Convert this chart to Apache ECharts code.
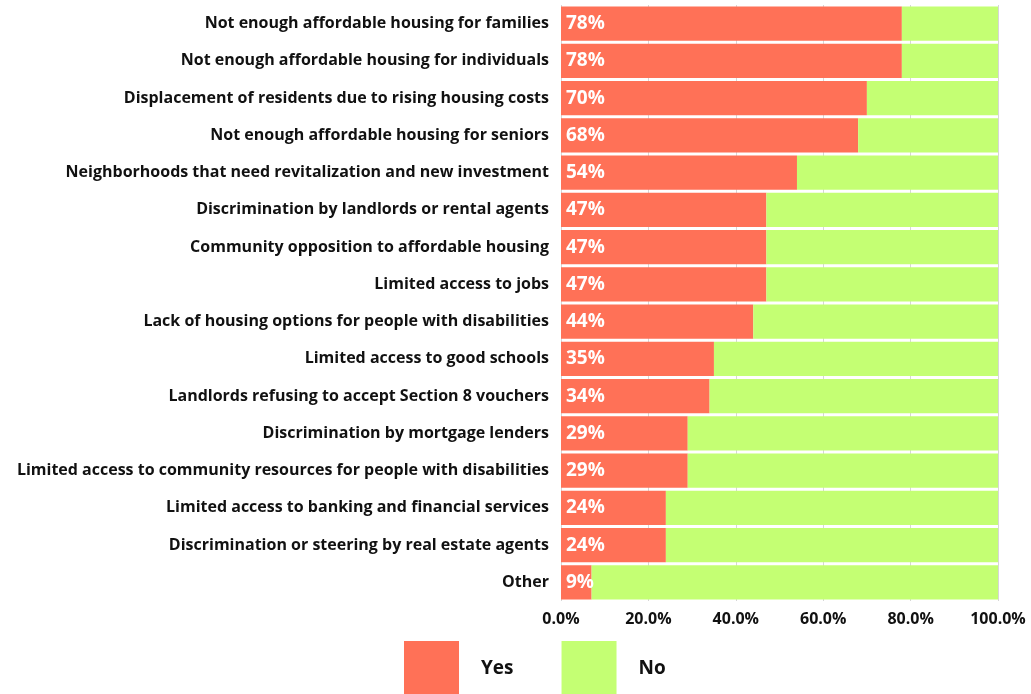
<!DOCTYPE html>
<html>
<head>
<meta charset="utf-8">
<script src="https://cdn.jsdelivr.net/npm/echarts@6/dist/echarts.min.js"></script>
<style>
  html, body { margin: 0; padding: 0; background: #fff; }
  #chart { width: 1031px; height: 694px; }
</style>
</head>
<body>
<div id="chart"></div>
<script>
// categories top to bottom
var categories = [
    'Not enough affordable housing for families',
    'Not enough affordable housing for individuals',
    'Displacement of residents due to rising housing costs',
    'Not enough affordable housing for seniors',
    'Neighborhoods that need revitalization and new investment',
    'Discrimination by landlords or rental agents',
    'Community opposition to affordable housing',
    'Limited access to jobs',
    'Lack of housing options for people with disabilities',
    'Limited access to good schools',
    'Landlords refusing to accept Section 8 vouchers',
    'Discrimination by mortgage lenders',
    'Limited access to community resources for people with disabilities',
    'Limited access to banking and financial services',
    'Discrimination or steering by real estate agents',
    'Other'
];
// bar lengths as drawn (percent)
var yesValues = [78, 78, 70, 68, 54, 47, 47, 47, 44, 35, 34, 29, 29, 24, 24, 7];
var noValues = [22, 22, 30, 32, 46, 53, 53, 53, 56, 65, 66, 71, 71, 76, 76, 93];
// labels printed on the bars
var yesLabels = ['78%', '78%', '70%', '68%', '54%', '47%', '47%', '47%', '44%', '35%', '34%', '29%', '29%', '24%', '24%', '9%'];
var tickValues = [0, 20, 40, 60, 80, 100];

var font = '"Open Sans", sans-serif';
var myChart = echarts.init(document.getElementById('chart'));
var option = {
    animation: false,
    textStyle: { fontFamily: font },
    grid: { left: 561, right: 33, top: 5, bottom: 93 },
    legend: {
        data: ['Yes', 'No'],
        top: 641,
        left: 404,
        padding: 0,
        icon: 'rect',
        itemWidth: 55,
        itemHeight: 55,
        itemGap: 48,
        textStyle: { fontSize: 19, fontWeight: 700, color: '#111', padding: [0, 0, 0, 17], fontFamily: font }
    },
    xAxis: {
        type: 'value',
        min: 0,
        max: 100,
        interval: 20,
        axisLine: { show: false },
        axisTick: { show: false },
        splitLine: { show: true, lineStyle: { color: '#d6d6d6', width: 1 } },
        axisLabel: {
            color: '#111',
            fontSize: 16,
            fontWeight: 700,
            margin: 10,
            formatter: function (v) { return tickValues.indexOf(v) >= 0 ? v.toFixed(1) + '%' : ''; }
        }
    },
    yAxis: {
        type: 'category',
        inverse: true,
        data: categories,
        axisLine: { show: false },
        axisTick: { show: false },
        axisLabel: { color: '#111', fontSize: 16, fontWeight: 700, margin: 12 }
    },
    series: [
        {
            name: 'Yes',
            type: 'bar',
            stack: 'total',
            barCategoryGap: '8%',
            itemStyle: { color: '#FF7157' },
            label: {
                show: true,
                position: 'insideLeft',
                distance: 5,
                color: '#fff',
                fontSize: 19,
                fontWeight: 700,
                formatter: function (p) { return yesLabels[p.dataIndex]; }
            },
            data: yesValues
        },
        {
            name: 'No',
            type: 'bar',
            stack: 'total',
            barCategoryGap: '8%',
            itemStyle: { color: '#C4FF73' },
            data: noValues
        }
    ]
};
myChart.setOption(option);
</script>
</body>
</html>
